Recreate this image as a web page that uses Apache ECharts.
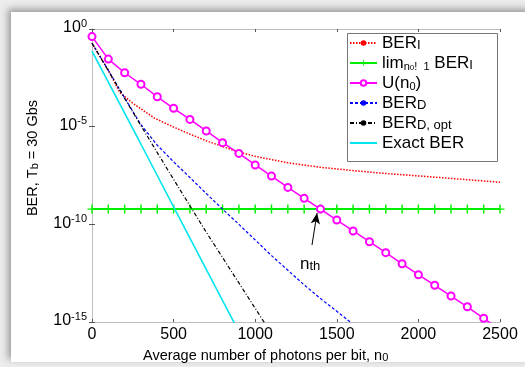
<!DOCTYPE html>
<html>
<head>
<meta charset="utf-8">
<script src="https://cdn.jsdelivr.net/npm/echarts@6.0.0/dist/echarts.min.js"></script>
<style>
  html, body { margin: 0; padding: 0; background: #ececec; }
  #panel { position: absolute; left: 11px; top: 12px; width: 530px; height: 350px; background: #fff;
    box-shadow: -3px -3px 7px rgba(0, 0, 0, 0.35); }
  #chart { position: absolute; left: 0; top: 0; width: 525px; height: 367px; }
</style>
</head>
<body>
<div id="panel"></div>
<div id="chart"></div>
<script>
// values are log10(BER)
const berIN = [0, 100, 170, 250, 384, 500, 600, 700, 800, 900, 1000, 1200, 1400, 1600, 1800, 2000, 2200, 2400, 2500];
const berILog = [-0.72, -2.1, -3.25, -3.8, -4.57, -5.02, -5.38, -5.72, -6.02, -6.3, -6.52, -6.85, -7.08, -7.25, -7.4, -7.52, -7.65, -7.78, -7.85];

const limN = [0, 100, 200, 300, 400, 500, 600, 700, 800, 900, 1000, 1100, 1200, 1300, 1400, 1500, 1600, 1700, 1800, 1900, 2000, 2100, 2200, 2300, 2400, 2500];
const limLog = -9.22;

const uN = [0, 100, 200, 300, 400, 500, 600, 700, 800, 900, 1000, 1100, 1200, 1300, 1400, 1500, 1600, 1700, 1800, 1900, 2000, 2100, 2200, 2300, 2400, 2450];
const uLog = [-0.39, -1.54, -2.24, -2.83, -3.47, -4.06, -4.63, -5.22, -5.82, -6.37, -6.96, -7.53, -8.11, -8.67, -9.22, -9.78, -10.34, -10.89, -11.45, -12.02, -12.58, -13.12, -13.67, -14.22, -14.81, -15.1];

const berDN = [0, 100, 200, 300, 400, 500, 600, 700, 800, 900, 1000, 1100, 1200, 1300, 1400, 1500, 1600];
const berDLog = [-0.72, -2.12, -3.52, -4.9, -5.95, -6.8, -7.6, -8.42, -9.22, -10.0, -10.8, -11.6, -12.35, -13.1, -13.8, -14.45, -15.12];

const optN = [0, 100, 200, 300, 400, 500, 600, 700, 800, 900, 1000, 1100];
const optLog = [-0.73, -2.14, -3.55, -4.95, -6.33, -7.7, -9.05, -10.4, -11.7, -13.0, -14.3, -15.6];

const exactN = [0, 300, 600, 900];
const exactLog = [-1.13, -5.9, -10.7, -15.5];

// n_th annotation (arrow tail -> tip), data coords
const nthTail = [1348, -11.06];
const nthTip = [1379, -9.42];

const FONT = "Liberation Sans, Arial, Helvetica, sans-serif";

function pairs(ns, logs) {
  return ns.map((n, i) => [n, Math.pow(10, Array.isArray(logs) ? logs[i] : logs)]);
}

const legendText = {
  "BER_I": "{t|BER}{sub|I}",
  "lim": "{t|lim}{sm|n}{smsub|0}{sm|!  1}{t| BER}{sub|I}",
  "U": "{t|U(n}{sm|0}{t|)}",
  "BER_D": "{t|BER}{sub|D}",
  "BER_D_opt": "{t|BER}{sub|D, opt}",
  "Exact BER": "{t|Exact BER}"
};

const chart = echarts.init(document.getElementById("chart"), null, { renderer: "canvas" });

const uData = pairs(uN, uLog).map((p, i) => (i === uN.length - 1 ? { value: p, symbol: "none" } : p));

chart.setOption({
  backgroundColor: "transparent",
  animation: false,
  grid: { left: 92, right: 25, top: 29, bottom: 45, show: false },
  xAxis: [
    {
      type: "value", min: 0, max: 2500, interval: 500,
      axisLine: { show: true, lineStyle: { color: "#bdbdbd", width: 1 } },
      axisTick: { show: true, inside: true, length: 3, lineStyle: { color: "#555" } },
      axisLabel: { color: "#000", fontSize: 16, fontFamily: FONT, margin: 5, formatter: (v) => String(v) },
      splitLine: { show: false }
    },
    {
      type: "value", min: 0, max: 2500, interval: 500, position: "top",
      axisLine: { show: true, lineStyle: { color: "#bdbdbd", width: 1 } },
      axisTick: { show: true, inside: true, length: 3, lineStyle: { color: "#555" } },
      axisLabel: { show: false },
      splitLine: { show: false }
    }
  ],
  yAxis: [
    {
      type: "log", logBase: 10, min: 1e-15, max: 1, interval: 5,
      axisLine: { show: true, lineStyle: { color: "#bdbdbd", width: 1 } },
      axisTick: { show: true, inside: true, length: 3, lineStyle: { color: "#555" } },
      minorTick: { show: false },
      splitLine: { show: false },
      axisLabel: {
        margin: 5,
        padding: [0, 0, 4, 0],
        formatter: (v) => "{b|10}{s|" + Math.round(Math.log10(v)) + "}",
        rich: {
          b: { fontSize: 16, fontFamily: FONT, color: "#000", lineHeight: 18, verticalAlign: "bottom" },
          s: { fontSize: 11, fontFamily: FONT, color: "#000", lineHeight: 6, verticalAlign: "top" }
        }
      }
    },
    {
      type: "log", logBase: 10, min: 1e-15, max: 1, interval: 5, position: "right",
      axisLine: { show: true, lineStyle: { color: "#bdbdbd", width: 1 } },
      axisTick: { show: true, inside: true, length: 3, lineStyle: { color: "#555" } },
      axisLabel: { show: false },
      splitLine: { show: false }
    }
  ],
  legend: {
    orient: "vertical",
    left: 349,
    top: 35,
    padding: 0,
    itemGap: 3,
    itemWidth: 27,
    itemHeight: 7,
    data: [
      "BER_I", "lim", "U", "BER_D", "BER_D_opt",
      { name: "Exact BER", itemStyle: { opacity: 0 } }
    ],
    formatter: (name) => legendText[name],
    textStyle: {
      fontFamily: FONT, fontSize: 17, color: "#000",
      rich: {
        t: { fontSize: 17, fontFamily: FONT, color: "#000", lineHeight: 18, verticalAlign: "bottom" },
        sub: { fontSize: 13, fontFamily: FONT, color: "#000", lineHeight: 8, verticalAlign: "bottom" },
        sm: { fontSize: 11, fontFamily: FONT, color: "#000", lineHeight: 12, verticalAlign: "bottom" },
        smsub: { fontSize: 8, fontFamily: FONT, color: "#000", lineHeight: 8, verticalAlign: "bottom" }
      }
    }
  },
  graphic: [
    {
      type: "rect", left: 347, top: 33, z: 0,
      shape: { width: 150, height: 128 },
      style: { fill: "#fff", stroke: "#777", lineWidth: 1 }
    },
    {
      type: "text", x: 143, y: 355,
      style: {
        text: "{t|Average number of photons per bit, n}{sub|0}",
        verticalAlign: "middle",
        rich: {
          t: { fontSize: 14.5, fontFamily: FONT, fill: "#000", lineHeight: 17, verticalAlign: "bottom" },
          sub: { fontSize: 11, fontFamily: FONT, fill: "#000", lineHeight: 8, verticalAlign: "bottom" }
        }
      }
    },
    {
      type: "text", x: 32, y: 158, rotation: Math.PI / 2,
      style: {
        text: "{t|BER, T}{sub|b}{t| = 30 Gbs}",
        align: "center", verticalAlign: "middle",
        rich: {
          t: { fontSize: 14.5, fontFamily: FONT, fill: "#000", lineHeight: 17, verticalAlign: "bottom" },
          sub: { fontSize: 11, fontFamily: FONT, fill: "#000", lineHeight: 8, verticalAlign: "bottom" }
        }
      }
    }
  ],
  series: [
    {
      name: "BER_I", type: "line", data: pairs(berIN, berILog),
      showSymbol: false, symbol: "circle", symbolSize: 4,
      itemStyle: { color: "#ff0000" },
      lineStyle: { color: "#ff0000", width: 1.5, type: [1.5, 1.5] },
      z: 2
    },
    {
      name: "lim", type: "line", data: pairs(limN, limLog),
      symbol: "path://M0,4.2H10V5.8H0Z M4.2,0H5.8V10H4.2Z", symbolSize: 9, symbolKeepAspect: true,
      itemStyle: { color: "#00ee00" },
      lineStyle: { color: "#00ee00", width: 2 },
      z: 3,
      markLine: {
        silent: true, symbol: ["none", "arrow"], symbolSize: [7, 11],
        lineStyle: { color: "#000", width: 1, type: "solid" },
        label: {
          show: true, position: "start", distance: 12,
          formatter: "{t|n}{sub|th}",
          rich: {
            t: { fontSize: 17, fontFamily: FONT, color: "#000", lineHeight: 16, verticalAlign: "bottom" },
            sub: { fontSize: 13, fontFamily: FONT, color: "#000", lineHeight: 8, verticalAlign: "bottom" }
          }
        },
        data: [[
          { coord: [nthTail[0], Math.pow(10, nthTail[1])] },
          { coord: [nthTip[0], Math.pow(10, nthTip[1])] }
        ]]
      }
    },
    {
      name: "U", type: "line", data: uData,
      symbol: "emptyCircle", symbolSize: 7,
      itemStyle: { color: "#ff00ff", borderColor: "#ff00ff", borderWidth: 1.3 },
      lineStyle: { color: "#ff00ff", width: 1.5 },
      z: 4
    },
    {
      name: "BER_D", type: "line", data: pairs(berDN, berDLog),
      showSymbol: false, symbol: "circle", symbolSize: 4,
      itemStyle: { color: "#0000ff" },
      lineStyle: { color: "#0000ff", width: 1.2, type: [3, 2] },
      z: 5
    },
    {
      name: "BER_D_opt", type: "line", data: pairs(optN, optLog),
      showSymbol: false, symbol: "circle", symbolSize: 4,
      itemStyle: { color: "#000" },
      lineStyle: { color: "#000", width: 1.2, type: [4, 2, 1, 2] },
      z: 6
    },
    {
      name: "Exact BER", type: "line", data: pairs(exactN, exactLog),
      showSymbol: false, symbol: "none",
      itemStyle: { color: "#00e5ee" },
      lineStyle: { color: "#00e5ee", width: 1.6 },
      z: 7
    }
  ]
});
</script>
</body>
</html>
